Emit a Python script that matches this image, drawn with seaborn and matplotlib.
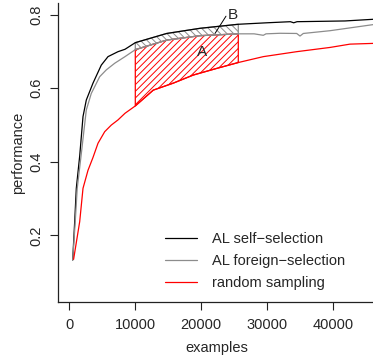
import numpy as np
import pandas as pd
import matplotlib
matplotlib.use("Agg")
import matplotlib.pyplot as plt
import seaborn as sns

# Learning curves: number of labelled examples vs. performance
self_x = [515, 818, 1061, 1576, 2076, 2576, 3591, 4848, 5864, 7379, 8439, 10000, 14758, 19803,
          25606, 29909, 33500, 34000, 34500, 41773, 46015]
self_y = [0.133, 0.2375, 0.328, 0.416, 0.523, 0.568, 0.614, 0.663, 0.686, 0.6995, 0.706, 0.724, 0.749, 0.763,
          0.774, 0.778, 0.781, 0.778, 0.781, 0.783, 0.7875]

foreign_x = [515, 900, 1200, 1780, 2576, 3333, 4606, 5606, 6879, 8439, 10000, 14758, 19803, 25606,
             28000, 29394, 29800, 31924, 34455, 34955, 35455, 39500, 46015]
foreign_y = [0.133, 0.2375, 0.328, 0.416, 0.541, 0.586, 0.6315, 0.650, 0.668, 0.686, 0.705, 0.731, 0.743, 0.748,
             0.748, 0.744, 0.748, 0.7495, 0.749, 0.742, 0.749, 0.7565, 0.773]

random_x = [650, 1576, 2076, 2833, 3591, 4348, 5364, 6364, 7379, 8439, 10000, 12727, 15758, 18788,
            22333, 25606, 29394, 34455, 39500, 42530, 46015]
random_y = [0.135, 0.2375, 0.328, 0.377, 0.412, 0.4505, 0.482, 0.500, 0.514, 0.532, 0.552, 0.595, 0.614, 0.636,
            0.654, 0.670, 0.686, 0.6995, 0.711, 0.720, 0.722]

labels = ["AL self\u2212selection", "AL foreign\u2212selection", "random sampling"]
colors = ["black", "#8c8c8c", "red"]

# stretch of the curves whose areas are compared
region_start, region_end = 10000, 25606

df = pd.concat([
    pd.DataFrame({"examples": self_x, "performance": self_y, "method": labels[0]}),
    pd.DataFrame({"examples": foreign_x, "performance": foreign_y, "method": labels[1]}),
    pd.DataFrame({"examples": random_x, "performance": random_y, "method": labels[2]}),
])

sns.set_style("ticks")
plt.rcParams["font.family"] = ["Liberation Sans", "DejaVu Sans"]
plt.rcParams["hatch.linewidth"] = 0.7

W, H = 373, 357
fig = plt.figure(figsize=(W / 100, H / 100), dpi=100)
ax = fig.add_axes([58 / W, 55 / H, (376 - 58) / W, (302 - 3.3) / H])

sns.lineplot(data=df, x="examples", y="performance", hue="method",
             palette=dict(zip(labels, colors)), hue_order=labels,
             estimator=None, errorbar=None, linewidth=0.9, ax=ax)

# shaded areas between the curves over the compared stretch
grid = sorted({x for x in self_x + foreign_x + random_x if region_start <= x <= region_end})
g = np.array(grid, dtype=float)
s_i = np.interp(g, self_x, self_y)
f_i = np.interp(g, foreign_x, foreign_y)
r_i = np.interp(g, random_x, random_y)
ax.fill_between(g, r_i, f_i, facecolor="none", edgecolor="red", hatch="/////", linewidth=0.9)
ax.fill_between(g, f_i, s_i, facecolor="none", edgecolor="#8c8c8c", hatch="\\" * 5, linewidth=0.9)

ax.text(20060, 0.6995, "A", fontsize=11, ha="center", va="center")
ax.text(24848, 0.799, "B", fontsize=11, ha="center", va="center")
ax.plot([22076, 23742], [0.749, 0.796], color="black", linewidth=0.7)

ax.set_xlim(-1712, 46470)
ax.set_ylim(0.019, 0.831)
ax.set_xticks([0, 10000, 20000, 30000, 40000])
ax.set_yticks([0.2, 0.4, 0.6, 0.8])
ax.set_yticklabels(["0.2", "0.4", "0.6", "0.8"], rotation=90, va="center")
ax.tick_params(axis="both", direction="out", length=5.8, width=0.8, labelsize=10.5, pad=4.5, color="#222222")
ax.tick_params(axis="x", pad=6)

sns.despine(ax=ax)
for side in ("left", "bottom"):
    ax.spines[side].set_linewidth(0.9)
    ax.spines[side].set_color("#222222")

ax.set_xlabel("examples", fontsize=10.5, labelpad=6)
ax.set_ylabel("performance", fontsize=10.5, labelpad=3)

handles, hl = ax.get_legend_handles_labels()
ax.legend(handles[:3], hl[:3], frameon=False, fontsize=10.5,
          loc="upper left", bbox_to_anchor=(165 / W, 1 - 232 / H),
          bbox_transform=fig.transFigure, handlelength=2.2,
          handletextpad=1.0, labelspacing=0.55, borderaxespad=0, borderpad=0)

fig.savefig("out.png", dpi=100)
